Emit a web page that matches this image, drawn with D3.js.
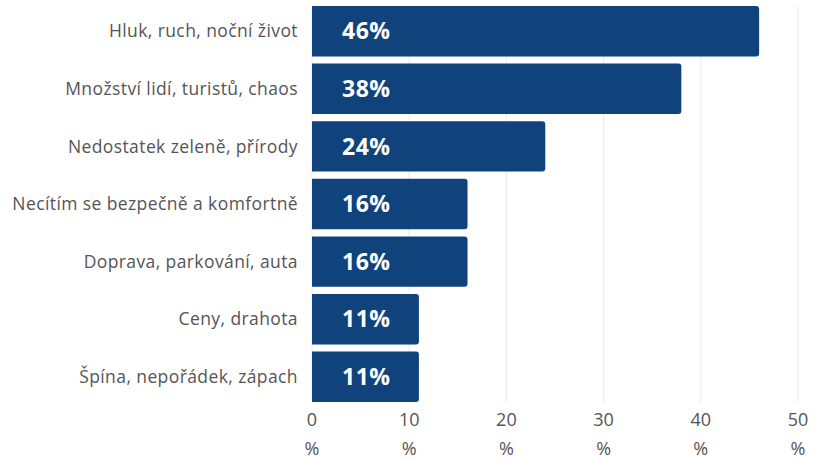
<!DOCTYPE html>
<html>
<head>
<meta charset="utf-8">
<script src="https://cdn.jsdelivr.net/npm/d3@7"></script>
<style>
  body { margin: 0; background: #fff; }
  svg { display: block; }
</style>
</head>
<body>
<div id="chart"></div>
<script>
const categories = [
  "Hluk, ruch, noční život",
  "Množství lidí, turistů, chaos",
  "Nedostatek zeleně, přírody",
  "Necítím se bezpečně a komfortně",
  "Doprava, parkování, auta",
  "Ceny, drahota",
  "Špína, nepořádek, zápach"
]
const values = [46, 38, 24, 16, 16, 11, 11]
const ticks = [0, 10, 20, 30, 40, 50]

const width = 825, height = 459
const margin = { top: 6, right: 27, bottom: 57, left: 312 }

const svg = d3.select("#chart").append("svg")
  .attr("width", width)
  .attr("height", height)

const x = d3.scaleLinear()
  .domain([0, 50])
  .range([margin.left, width - margin.right])

const y = d3.scaleBand()
  .domain(categories)
  .range([margin.top, height - margin.bottom])
  .paddingInner(0.125)
  .paddingOuter(0)

// gridlines
svg.append("g")
  .selectAll("line")
  .data(ticks)
  .enter()
  .append("line")
  .attr("x1", d => x(d))
  .attr("x2", d => x(d))
  .attr("y1", margin.top)
  .attr("y2", height - margin.bottom)
  .attr("stroke", "#e8e8e8")
  .attr("stroke-width", 1)

// bars, rounded only on the right end
const r = 3
svg.append("g")
  .selectAll("path")
  .data(values)
  .enter()
  .append("path")
  .attr("fill", "#10437b")
  .attr("d", (d, i) => {
    const x0 = x(0), x1 = x(d)
    const y0 = y(categories[i]), h = y.bandwidth()
    return `M${x0},${y0}H${x1 - r}Q${x1},${y0} ${x1},${y0 + r}V${y0 + h - r}Q${x1},${y0 + h} ${x1 - r},${y0 + h}H${x0}Z`
  })

// value labels
svg.append("g")
  .selectAll("text")
  .data(values)
  .enter()
  .append("text")
  .attr("x", x(0) + 30)
  .attr("y", (d, i) => y(categories[i]) + y.bandwidth() / 2)
  .attr("dy", "0.36em")
  .attr("fill", "#fff")
  .attr("font-family", "'Open Sans', sans-serif")
  .attr("font-weight", "bold")
  .attr("font-size", 23)
  .attr("letter-spacing", 0.5)
  .text(d => d + "%")

// category labels
svg.append("g")
  .selectAll("text")
  .data(categories)
  .enter()
  .append("text")
  .attr("x", margin.left - 14)
  .attr("y", d => y(d) + y.bandwidth() / 2)
  .attr("dy", "0.35em")
  .attr("text-anchor", "end")
  .attr("fill", "#555")
  .attr("font-family", "'Open Sans', sans-serif")
  .attr("font-size", 17.5)
  .attr("letter-spacing", 0.4)
  .text(d => d)

// x tick labels, two lines
const tickG = svg.append("g")
  .selectAll("g")
  .data(ticks)
  .enter()
  .append("g")
  .attr("transform", d => `translate(${x(d)},0)`)

tickG.append("text")
  .attr("y", 426)
  .attr("text-anchor", "middle")
  .attr("fill", "#555")
  .attr("font-family", "'Open Sans', sans-serif")
  .attr("font-size", 18)
  .text(d => d)

tickG.append("text")
  .attr("y", 455)
  .attr("text-anchor", "middle")
  .attr("fill", "#555")
  .attr("font-family", "'Open Sans', sans-serif")
  .attr("font-size", 18)
  .text("%")
</script>
</body>
</html>
